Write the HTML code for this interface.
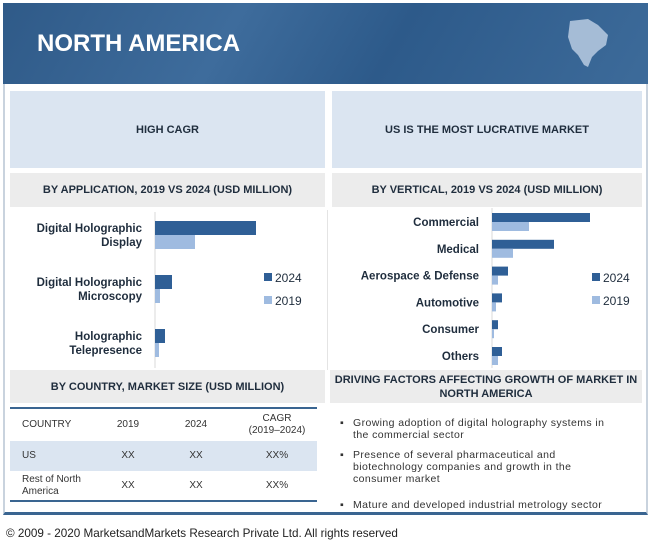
<!DOCTYPE html>
<html><head><meta charset="utf-8"><style>
*{margin:0;padding:0;box-sizing:border-box}
body{width:650px;height:545px;background:#fff;position:relative;overflow:hidden;font-family:"Liberation Sans Narrow","Liberation Sans",sans-serif;color:#1f2d3d}
.abs{position:absolute}
.hdr{left:3px;top:3px;width:645px;height:81px;background:linear-gradient(120deg,#2f5a88 0%,#3e6c9c 35%,#2d5a8a 60%,#3d6b9a 100%)}
.frame{left:3px;top:84px;width:645px;height:431px;border:2px solid #c9d3de;border-top:none;border-bottom:3px solid #3a6591}
.box{background:#dbe5f1;display:flex;align-items:center;justify-content:center;font-weight:bold;font-size:11px;text-align:center}
.sub{background:#ececec;display:flex;align-items:center;justify-content:center;font-weight:bold;font-size:11px;text-align:center;line-height:14px}
.tbl{font-size:10px;color:#333}
.bul{font-family:"Liberation Sans",sans-serif;font-size:10.5px;letter-spacing:0.4px;color:#333;line-height:12px}
</style></head><body>
<div class="abs hdr">
  <div class="abs" style="left:34px;top:27px;color:#fff;font-weight:bold;font-size:24px;font-family:'Liberation Sans',sans-serif">NORTH AMERICA</div>
  <svg class="abs" style="left:555px;top:12px" width="60" height="60"><path d="M12 6 L30 4 L40 10 L50 20 L48 30 L40 36 L34 42 L30 52 L26 50 L20 40 L14 34 L10 22 Z" fill="#b8cbe2" opacity="0.85"/></svg>
</div>
<div class="abs frame"></div>
<div class="abs box" style="left:10px;top:91px;width:315px;height:77px">HIGH CAGR</div>
<div class="abs box" style="left:332px;top:91px;width:310px;height:77px">US IS THE MOST LUCRATIVE MARKET</div>
<div class="abs sub" style="left:10px;top:173px;width:315px;height:34px">BY APPLICATION, 2019 VS 2024 (USD MILLION)</div>
<div class="abs sub" style="left:332px;top:173px;width:310px;height:34px">BY VERTICAL, 2019 VS 2024 (USD MILLION)</div>
<div class="abs" style="left:327px;top:210px;width:1px;height:160px;background:#e4e4e4"></div>

<svg class="abs" style="left:0;top:0" width="650" height="545" id="charts"></svg>

<div class="abs sub" style="left:10px;top:370px;width:315px;height:33px">BY COUNTRY, MARKET SIZE (USD MILLION)</div>
<div class="abs sub" style="left:330px;top:370px;width:312px;height:33px">DRIVING FACTORS AFFECTING GROWTH OF MARKET IN<br>NORTH AMERICA</div>

<div class="abs" style="left:10px;top:407px;width:307px;height:2px;background:#3a6591"></div>
<div class="abs" style="left:10px;top:441px;width:307px;height:30px;background:#dbe5f1"></div>
<div class="abs" style="left:10px;top:500px;width:307px;height:2px;background:#3a6591"></div>
<div class="abs tbl" style="left:22px;top:419px">COUNTRY</div>
<div class="abs tbl" style="left:113px;top:419px;width:30px;text-align:center">2019</div>
<div class="abs tbl" style="left:181px;top:419px;width:30px;text-align:center">2024</div>
<div class="abs tbl" style="left:237px;top:413px;width:80px;text-align:center;line-height:12px">CAGR<br>(2019–2024)</div>
<div class="abs tbl" style="left:22px;top:450px">US</div>
<div class="abs tbl" style="left:113px;top:450px;width:30px;text-align:center">XX</div>
<div class="abs tbl" style="left:181px;top:450px;width:30px;text-align:center">XX</div>
<div class="abs tbl" style="left:237px;top:450px;width:80px;text-align:center">XX%</div>
<div class="abs tbl" style="left:22px;top:474px;line-height:12px">Rest of North<br>America</div>
<div class="abs tbl" style="left:113px;top:480px;width:30px;text-align:center">XX</div>
<div class="abs tbl" style="left:181px;top:480px;width:30px;text-align:center">XX</div>
<div class="abs tbl" style="left:237px;top:480px;width:80px;text-align:center">XX%</div>

<div class="abs bul" style="left:340px;top:417px">▪</div>
<div class="abs bul" style="left:353px;top:417px">Growing adoption of digital holography systems in<br>the commercial sector</div>
<div class="abs bul" style="left:340px;top:449px">▪</div>
<div class="abs bul" style="left:353px;top:449px">Presence of several pharmaceutical and<br>biotechnology companies and growth in the<br>consumer market</div>
<div class="abs bul" style="left:340px;top:499px">▪</div>
<div class="abs bul" style="left:353px;top:499px">Mature and developed industrial metrology sector</div>

<div class="abs" style="left:6px;top:527px;font-family:'Liberation Sans',sans-serif;font-size:11.7px;color:#222">© 2009 - 2020 MarketsandMarkets Research Private Ltd. All rights reserved</div>

<script>
const appCategories=["Digital Holographic|Display","Digital Holographic|Microscopy","Holographic|Telepresence"];
const app2024=[101,17,10];
const app2019=[40,5,4];
const vertCategories=["Commercial","Medical","Aerospace & Defense","Automotive","Consumer","Others"];
const vert2024=[98,62,16,10,6,10];
const vert2019=[37,21,6,4,2,6];
const legendLabels=["2024","2019"];
const C24="#2f5f96",C19="#9fbbe0";
const svg=document.getElementById('charts');
const NS="http://www.w3.org/2000/svg";
function el(t,a){const e=document.createElementNS(NS,t);for(const k in a)e.setAttribute(k,a[k]);svg.appendChild(e);return e;}
function xs(x0,v){return x0+v;}
const aX0=155,aY0=221,aStep=54,aBh=14;
el('line',{x1:aX0,y1:212,x2:aX0,y2:368,stroke:'#d8d8d8'});
appCategories.forEach((c,i)=>{
  const y=aY0+i*aStep;
  const r1=el('rect',{x:aX0,y:y,width:xs(0,app2024[i]),height:aBh,fill:C24});
  
  
  const r2=el('rect',{x:aX0,y:y+aBh,width:xs(0,app2019[i]),height:aBh,fill:C19});
  
  
  const parts=c.split('|');
  parts.forEach((p,j)=>{const t=el('text',{x:142,y:y+11+j*14,'text-anchor':'end','font-size':'11.5','font-weight':'bold',fill:'#1f2d3d','font-family':'Liberation Sans Narrow, Liberation Sans, sans-serif'});t.textContent=p;
  
  });
});
const vX0=492,vY0=213,vStep=26.8,vBh=9;
el('line',{x1:vX0,y1:208,x2:vX0,y2:368,stroke:'#d8d8d8'});
vertCategories.forEach((c,i)=>{
  const y=vY0+i*vStep;
  const r1=el('rect',{x:vX0,y:y,width:xs(0,vert2024[i]),height:vBh,fill:C24});
  
  
  const r2=el('rect',{x:vX0,y:y+vBh,width:xs(0,vert2019[i]),height:vBh,fill:C19});
  
  
  const t=el('text',{x:479,y:y+13,'text-anchor':'end','font-size':'11.5','font-weight':'bold',fill:'#1f2d3d','font-family':'Liberation Sans Narrow, Liberation Sans, sans-serif'});t.textContent=c;
  
  
});
[[264,275],[592,603]].forEach(([sx,tx])=>{
  legendLabels.forEach((l,j)=>{
    const y=273+j*23;
    const r=el('rect',{x:sx,y:y,width:8,height:8,fill:j?C19:C24});
    
    
    const t=el('text',{x:tx,y:y+9,'font-size':'12',fill:'#1f2d3d','font-family':'Liberation Sans, sans-serif'});t.textContent=l;
    
    
  });
});
</script>
</body></html>
